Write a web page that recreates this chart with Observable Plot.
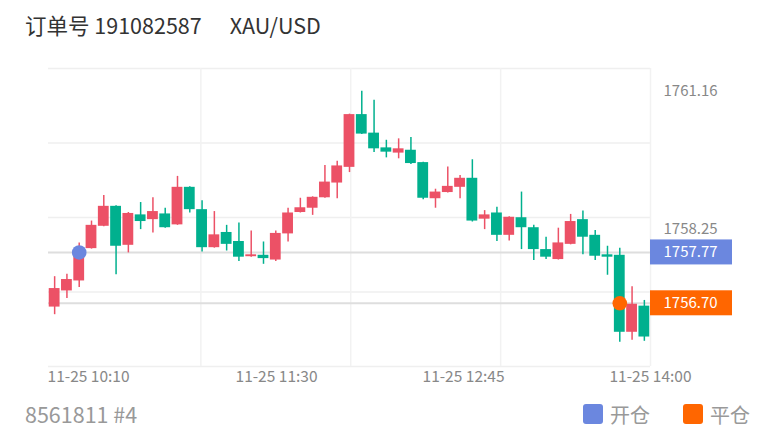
<!DOCTYPE html>
<html>
<head>
<meta charset="utf-8">
<script src="https://cdn.jsdelivr.net/npm/d3@7"></script>
<script src="https://cdn.jsdelivr.net/npm/@observablehq/plot@0.6"></script>
<style>
  html, body { margin: 0; padding: 0; background: #fff; }
  body { font-family: "Noto Sans CJK SC", "Noto Sans", sans-serif; }
  #wrap { position: relative; width: 775px; height: 440px; overflow: hidden; }
  #title { position: absolute; left: 25px; top: 9px; font-size: 21.5px; color: #333; white-space: nowrap; }
  #title .sym { margin-left: 28px; }
  #chart { position: absolute; left: 0; top: 50px; }
  #foot { position: absolute; left: 25px; top: 398px; width: 725px; height: 32px; color: #999; }
  #acct { position: absolute; left: 0; top: 0; font-size: 21.5px; line-height: 32px; }
  #legend { position: absolute; right: 0; top: 0; height: 32px; display: flex; align-items: center; }
  #legend .item { display: flex; align-items: center; margin-left: 33px; color: #999; font-size: 20px; }
  #legend .sw { width: 20px; height: 20px; border-radius: 3px; margin-right: 7px; }
</style>
</head>
<body>
<div id="wrap">
  <div id="title"></div>
  <div id="chart"></div>
  <div id="foot"><span id="acct"></span><div id="legend"></div></div>
</div>
<script>
// ---- data ----
const orderNo = "191082587";
const symbol = "XAU/USD";
const account = "8561811 #4";

const opens  = [1756.62,1756.96,1757.17,1757.85,1758.32,1758.74,1757.92,1758.56,1758.46,1758.58,
                1758.35,1759.14,1758.67,1757.87,1758.19,1758.00,1757.68,1757.71,1757.61,1758.16,
                1758.61,1758.70,1758.92,1759.23,1759.56,1760.67,1760.28,1759.97,1759.86,1759.92,
                1759.66,1758.90,1759.03,1759.14,1759.33,1758.47,1758.60,1758.13,1758.50,1758.29,
                1757.83,1757.62,1757.94,1758.46,1758.13,1757.72,1757.71,1756.09,1756.64];
const highs  = [1757.26,1757.31,1757.97,1758.43,1758.97,1758.75,1758.61,1758.82,1758.92,1758.70,
                1759.37,1759.15,1758.86,1758.63,1758.34,1758.39,1758.22,1757.99,1758.22,1758.70,
                1758.91,1758.94,1759.60,1759.69,1760.68,1761.16,1760.97,1760.13,1760.16,1760.19,
                1759.67,1759.10,1759.57,1759.39,1759.72,1758.65,1758.72,1758.52,1759.04,1758.34,
                1758.09,1758.28,1758.57,1758.64,1758.23,1757.90,1757.86,1757.05,1756.76];
const lows   = [1756.46,1756.80,1757.03,1757.84,1758.31,1757.30,1757.76,1758.25,1758.18,1758.28,
                1758.34,1758.60,1757.78,1757.86,1757.80,1757.58,1757.67,1757.52,1757.58,1757.99,
                1758.60,1758.55,1758.91,1758.90,1759.45,1760.25,1759.87,1759.76,1759.74,1759.62,
                1758.88,1758.70,1759.02,1758.90,1758.41,1758.25,1758.00,1758.01,1757.83,1757.60,
                1757.62,1757.61,1757.93,1757.72,1757.60,1757.29,1755.88,1755.92,1755.90];
const closes = [1757.01,1757.20,1757.76,1758.34,1758.74,1757.90,1758.59,1758.42,1758.63,1758.29,
                1759.14,1758.67,1757.87,1758.14,1757.94,1757.67,1757.72,1757.64,1758.17,1758.60,
                1758.71,1758.93,1759.25,1759.59,1760.67,1760.26,1759.95,1759.88,1759.95,1759.64,
                1758.91,1759.04,1759.16,1759.33,1758.43,1758.56,1758.13,1758.51,1758.29,1757.83,
                1757.67,1757.97,1758.42,1758.09,1757.69,1757.67,1756.09,1756.68,1755.99];

const xLabels = ["11-25 10:10", "11-25 11:30", "11-25 12:45", "11-25 14:00"];
const xLabelAt = [2.76, 18.06, 33.28, 48.5];
const xGridAt = [11.9, 24.1, 36.3, 48.5];
const yDomain = [1755.37, 1761.64];
const axisPrices = [1761.16, 1758.25];

const markerNames = ["开仓", "平仓"];
const markerIndex = [2, 46];
const markerPrices = [1757.77, 1756.70];
const markerColors = ["#6b87df", "#ff6600"];

// ---- build ----
const UP = "#ec5166", DOWN = "#00b08e";
const candles = opens.map((o, i) => ({i, open: o, high: highs[i], low: lows[i], close: closes[i]}));
const markers = markerNames.map((n, k) => ({name: n, i: markerIndex[k], price: markerPrices[k], color: markerColors[k]}));
const xMax = candles.length - 0.5;
const yGrid = d3.range(5).map(k => yDomain[0] + k * (yDomain[1] - yDomain[0]) / 4);
const col = d => d.close >= d.open ? UP : DOWN;

document.getElementById("title").innerHTML = `订单号 ${orderNo}<span class="sym">${symbol}</span>`;
document.getElementById("acct").textContent = account;
const leg = document.getElementById("legend");
markers.forEach(m => {
  const it = document.createElement("div");
  it.className = "item";
  it.innerHTML = `<span class="sw" style="background:${m.color}"></span><span>${m.name}</span>`;
  leg.appendChild(it);
});

const chart = Plot.plot({
  width: 775,
  height: 345,
  marginTop: 18,
  marginBottom: 29,
  marginLeft: 48,
  marginRight: 125,
  style: {fontFamily: "'Noto Sans CJK SC', 'Noto Sans', sans-serif", background: "#fff", overflow: "visible"},
  x: {type: "linear", domain: [-0.5, xMax], axis: null},
  y: {type: "linear", domain: yDomain, axis: null},
  marks: [
    Plot.gridY(yGrid, {stroke: "#efefef", strokeOpacity: 1, strokeWidth: 1.5}),
    Plot.gridX(xGridAt, {stroke: "#f2f2f2", strokeOpacity: 1, strokeWidth: 1.5}),
    Plot.axisX(xLabelAt, {tickSize: 0, tickPadding: 4, tickFormat: (d, k) => xLabels[k], fontSize: 15.5, fill: "#888", anchor: "bottom", label: null}),
    Plot.ruleY(markers, {y: "price", stroke: "#dedede", strokeWidth: 2}),
    Plot.ruleX(candles, {x: "i", y1: "low", y2: "high", stroke: col, strokeWidth: 1.5}),
    Plot.rect(candles, {x1: d => d.i - 0.44, x2: d => d.i + 0.44, y1: "open", y2: "close", fill: col}),
    Plot.dot(markers, {x: "i", y: "price", r: 7.3, fill: "color"}),
    Plot.text(axisPrices, {y: d => d, text: d => d.toFixed(2), frameAnchor: "right", dx: 13, textAnchor: "start", fontSize: 15, fill: "#888"}),
    Plot.rect(markers, {x1: () => xMax, x2: () => xMax, y1: "price", y2: "price", insetRight: -82, insetTop: -12.5, insetBottom: -12.5, fill: "color"}),
    Plot.text(markers, {y: "price", text: d => d.price.toFixed(2), frameAnchor: "right", dx: 13, textAnchor: "start", fontSize: 15, fill: "#fff"})
  ]
});
document.getElementById("chart").appendChild(chart);
</script>
</body>
</html>
